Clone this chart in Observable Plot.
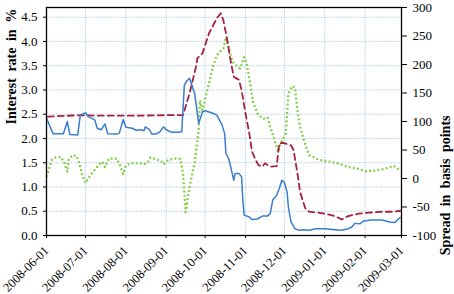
<!DOCTYPE html>
<html><head><meta charset="utf-8">
<script src="https://cdn.jsdelivr.net/npm/d3@7"></script>
<script src="https://cdn.jsdelivr.net/npm/@observablehq/plot@0.6"></script>
<style>
html,body{margin:0;padding:0;background:#fff}
svg{font-family:"Liberation Serif","Times New Roman",serif}
</style>
</head><body><div id="chart"></div>
<script>
// Blue solid series (left axis, %)
const blueDates = ["2008-06-01","2008-06-06","2008-06-10","2008-06-14","2008-06-17","2008-06-19","2008-06-25","2008-06-27","2008-07-01","2008-07-03","2008-07-08","2008-07-10","2008-07-13","2008-07-16","2008-07-18","2008-07-25","2008-07-27","2008-07-30","2008-08-01","2008-08-06","2008-08-09","2008-08-13","2008-08-15","2008-08-16","2008-08-19","2008-08-21","2008-08-24","2008-08-27","2008-08-30","2008-09-01","2008-09-05","2008-09-10","2008-09-13","2008-09-15","2008-09-17","2008-09-19","2008-09-21","2008-09-23","2008-09-26","2008-09-29","2008-10-01","2008-10-07","2008-10-10","2008-10-14","2008-10-16","2008-10-17","2008-10-19","2008-10-20","2008-10-23","2008-10-24","2008-10-27","2008-10-29","2008-10-30","2008-10-31","2008-11-04","2008-11-06","2008-11-10","2008-11-14","2008-11-18","2008-11-20","2008-11-22","2008-11-25","2008-11-27","2008-11-29","2008-12-01","2008-12-03","2008-12-04","2008-12-06","2008-12-09","2008-12-12","2008-12-15","2008-12-20","2008-12-25","2009-01-01","2009-01-09","2009-01-14","2009-01-19","2009-01-22","2009-01-24","2009-01-28","2009-01-31","2009-02-06","2009-02-14","2009-02-20","2009-02-24","2009-02-27","2009-02-28"];
const blueValues = [2.42,2.10,2.10,2.10,2.35,2.08,2.07,2.48,2.53,2.45,2.39,2.21,2.18,2.30,2.10,2.09,2.11,2.39,2.23,2.21,2.17,2.18,2.16,2.24,2.19,2.09,2.09,2.13,2.24,2.18,2.13,2.13,2.14,3.10,3.19,3.24,3.08,2.92,2.31,2.55,2.57,2.52,2.48,2.28,2.10,1.69,1.59,1.49,1.14,1.28,1.28,1.21,0.73,0.42,0.38,0.33,0.34,0.40,0.40,0.45,0.73,0.83,0.97,1.14,1.09,0.90,0.59,0.28,0.14,0.11,0.12,0.11,0.14,0.14,0.12,0.11,0.14,0.18,0.25,0.24,0.30,0.32,0.32,0.28,0.27,0.35,0.37];

// Red dashed series (left axis, %)
const redDates = ["2008-06-02","2008-06-27","2008-07-10","2008-08-10","2008-09-01","2008-09-14","2008-09-19","2008-09-24","2008-09-25","2008-09-29","2008-10-04","2008-10-10","2008-10-13","2008-10-15","2008-10-18","2008-10-20","2008-10-23","2008-10-27","2008-10-29","2008-11-01","2008-11-04","2008-11-06","2008-11-09","2008-11-11","2008-11-14","2008-11-16","2008-11-20","2008-11-25","2008-11-27","2008-11-30","2008-12-06","2008-12-08","2008-12-11","2008-12-13","2008-12-17","2008-12-20","2008-12-27","2009-01-03","2009-01-09","2009-01-14","2009-01-19","2009-01-27","2009-02-04","2009-02-14","2009-02-22","2009-02-28"];
const redValues = [2.45,2.48,2.47,2.47,2.48,2.48,2.93,3.48,3.65,3.76,4.17,4.48,4.58,4.44,4.03,3.69,3.27,3.21,3.00,2.52,2.10,1.73,1.55,1.45,1.42,1.49,1.42,1.43,1.90,1.91,1.86,1.76,1.28,0.90,0.56,0.49,0.47,0.44,0.40,0.33,0.40,0.45,0.47,0.49,0.49,0.51];

// Green dotted series (right axis, basis points)
const greenDates = ["2008-06-01","2008-06-05","2008-06-08","2008-06-12","2008-06-15","2008-06-17","2008-06-18","2008-06-21","2008-06-24","2008-06-26","2008-06-29","2008-07-01","2008-07-04","2008-07-08","2008-07-12","2008-07-14","2008-07-16","2008-07-19","2008-07-25","2008-07-27","2008-07-30","2008-08-01","2008-08-06","2008-08-11","2008-08-15","2008-08-18","2008-08-20","2008-08-24","2008-08-28","2008-08-30","2008-09-03","2008-09-08","2008-09-12","2008-09-14","2008-09-16","2008-09-19","2008-09-23","2008-09-26","2008-09-27","2008-09-29","2008-10-03","2008-10-07","2008-10-10","2008-10-13","2008-10-15","2008-10-17","2008-10-19","2008-10-22","2008-10-26","2008-10-28","2008-10-31","2008-11-02","2008-11-05","2008-11-07","2008-11-11","2008-11-15","2008-11-18","2008-11-20","2008-11-23","2008-11-26","2008-11-28","2008-12-02","2008-12-04","2008-12-07","2008-12-09","2008-12-11","2008-12-13","2008-12-16","2008-12-18","2008-12-20","2008-12-23","2008-12-27","2009-01-04","2009-01-12","2009-01-19","2009-01-27","2009-02-01","2009-02-09","2009-02-16","2009-02-23","2009-02-25","2009-02-28"];
const greenValues = [3,32,37,38,26,12,32,41,40,29,3,-8,3,15,26,29,20,35,35,26,8,23,27,27,25,29,37,34,31,25,33,35,34,9,-59,-15,29,85,137,120,158,196,216,224,228,248,231,205,196,193,213,202,161,132,111,105,107,91,70,47,61,79,149,162,160,120,91,67,53,41,38,33,30,26,20,17,13,14,17,22,20,13];

// Axes
const leftTicks = [0,0.5,1,1.5,2,2.5,3,3.5,4,4.5];
const rightTicks = [-100,-50,0,50,100,150,200,250,300];
const monthTicks = ["2008-06-01","2008-07-01","2008-08-01","2008-09-01","2008-10-01","2008-11-01","2008-12-01","2009-01-01","2009-02-01","2009-03-01"];
const leftLabel = "Interest rate in %";
const rightLabel = "Spread in basis points";

const Y_MAX = 4.7, BP_MIN = -100, BP_MAX = 300;
const bpToY = bp => (bp - BP_MIN) / (BP_MAX - BP_MIN) * Y_MAX;
const yToBp = y => Math.round(y / Y_MAX * (BP_MAX - BP_MIN) + BP_MIN);

const toRows = (dates, vals) => dates.map((d, i) => ({date: new Date(d), value: vals[i]}));
const blue = toRows(blueDates, blueValues);
const red = toRows(redDates, redValues);
const green = toRows(greenDates, greenValues);
const months = monthTicks.map(d => new Date(d));
const fmt = d3.utcFormat("%Y-%m-%d");

const gridStyle = {stroke: "#a9c6e6", strokeOpacity: 1, strokeWidth: 1, strokeDasharray: "1.2,1.3"};

const chart = Plot.plot({
  width: 454, height: 294,
  marginLeft: 46, marginRight: 53, marginTop: 7, marginBottom: 59,
  x: {type: "utc", domain: [new Date("2008-06-01"), new Date("2009-03-01")]},
  y: {domain: [0, Y_MAX]},
  marks: [
    Plot.gridY(leftTicks.slice(1), gridStyle),
    Plot.gridX(months.slice(1, -1), gridStyle),
    Plot.line(green, {x: "date", y: d => bpToY(d.value), stroke: "#7ccc3c", strokeWidth: 2.3, strokeDasharray: "1.8,2.4", strokeLinecap: "butt"}),
    Plot.line(red, {x: "date", y: "value", stroke: "#a6213f", strokeWidth: 1.8, strokeDasharray: "6,4"}),
    Plot.line(blue, {x: "date", y: "value", stroke: "#3b7dcc", strokeWidth: 1.5}),
    Plot.frame({stroke: "black", strokeWidth: 1.3}),
    Plot.axisY(leftTicks, {anchor: "left", tickSize: 3, tickPadding: 6, fontSize: 13, tickFormat: d => d.toFixed(1), label: null}),
    Plot.axisY(rightTicks.map(bpToY), {anchor: "right", tickSize: 5, tickPadding: 6, fontSize: 13, tickFormat: yToBp, label: null}),
    Plot.axisX(months, {tickSize: 3, tickPadding: 10, tickRotate: -45, fontSize: 12.5, tickFormat: fmt, label: null}),
    Plot.text([leftLabel], {frameAnchor: "left", rotate: -90, dx: -35, dy: 3, fontSize: 14, fontWeight: "bold"}),
    Plot.text([rightLabel], {frameAnchor: "right", rotate: -90, dx: 44, dy: -6, fontSize: 14, fontWeight: "bold"})
  ]
});
d3.select(chart).selectAll("text").filter(function(){ return this.textContent === leftLabel || this.textContent === rightLabel; }).style("word-spacing", "3px");
document.getElementById("chart").appendChild(chart);
</script>
</body></html>
